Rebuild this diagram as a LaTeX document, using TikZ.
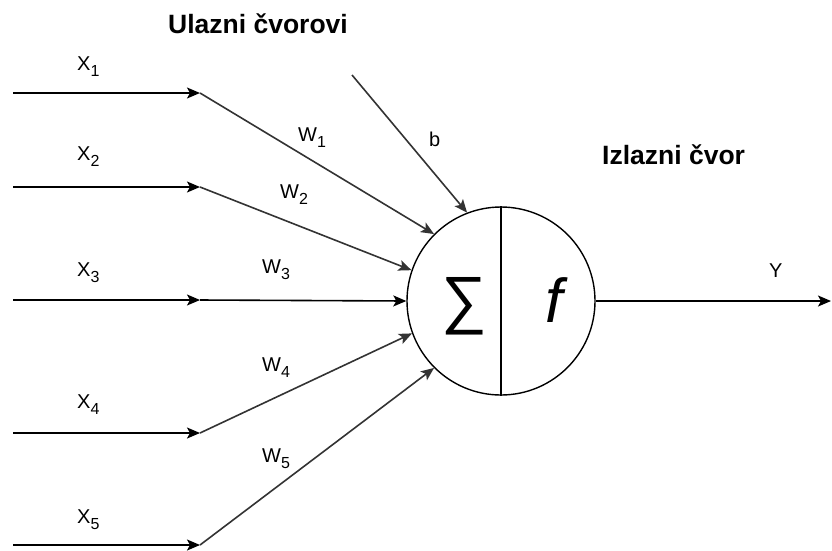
\documentclass[tikz,border=0pt]{standalone}
\usepackage{fontspec}
\setmainfont{Liberation Sans}
\usetikzlibrary{arrows.meta}
\newcommand{\sublab}[2]{#1\raisebox{-6pt}{\fontsize{16}{16}\selectfont #2}}
\begin{document}
\begin{tikzpicture}[x=1pt,y=-1pt,
  lab/.style={inner sep=0pt, anchor=base west, font=\fontsize{20}{24}\selectfont},
  ttl/.style={inner sep=0pt, anchor=base west, font=\fontsize{26.5}{30}\selectfont\bfseries},
  tip/.style={-{Stealth[length=13pt,width=11pt,inset=3pt]}},
  inarrow/.style={tip, line width=1.6pt, black},
  warrow/.style={tip, line width=1.6pt, black!80},
  neuron/.style={circle, draw, line width=1.4pt, minimum size=188pt, inner sep=0pt}]
\useasboundingbox (0,0) rectangle (832,550);
\node[neuron] (c) at (501,301) {};
\draw[line width=1.4pt] (c.north) -- (c.south);
\node[inner sep=0pt, font=\fontsize{64}{64}\selectfont] (sig) at (464,306) {∑};
\node[inner sep=0pt, font=\fontsize{62}{62}\selectfont\itshape] (fn) at (554,300) {f};
% inputs
\coordinate (i1) at (13,93);  \coordinate (j1) at (200,93);
\coordinate (i2) at (13,187); \coordinate (j2) at (200,187);
\coordinate (i3) at (13,300); \coordinate (j3) at (200,300);
\coordinate (i4) at (13,433); \coordinate (j4) at (200,433);
\coordinate (i5) at (13,545); \coordinate (j5) at (200,545);
\coordinate (bs) at (352,75);
\coordinate (o) at (831,301);
\foreach \k in {1,...,5} {\draw[inarrow] (i\k) -- (j\k);}
\draw[warrow] (j1) -- (c.135);
\draw[warrow] (j2) -- (c.161);
\draw[inarrow] (j3) -- (c.180);
\draw[warrow] (j4) -- (c.200);
\draw[warrow] (j5) -- (c.225);
\draw[warrow] (bs) -- (c.111);
\draw[inarrow] (c.east) -- (o);
% labels
\node[lab] (x1) at (77,70) {\sublab{X}{1}};
\node[lab] (x2) at (77,160) {\sublab{X}{2}};
\node[lab] (x3) at (77,276) {\sublab{X}{3}};
\node[lab] (x4) at (77,408) {\sublab{X}{4}};
\node[lab] (x5) at (77,523) {\sublab{X}{5}};
\node[lab] (w1) at (298,141) {\sublab{W}{1}};
\node[lab] (w2) at (280,198) {\sublab{W}{2}};
\node[lab] (w3) at (262,273) {\sublab{W}{3}};
\node[lab] (w4) at (262,371) {\sublab{W}{4}};
\node[lab] (w5) at (262,462) {\sublab{W}{5}};
\node[lab] (bl) at (429,146) {b};
\node[lab] (yl) at (769,277) {Y};
\node[ttl] (t1) at (168,33) {Ulazni čvorovi};
\node[ttl] (t2) at (602,164) {Izlazni čvor};
\end{tikzpicture}
\end{document}
